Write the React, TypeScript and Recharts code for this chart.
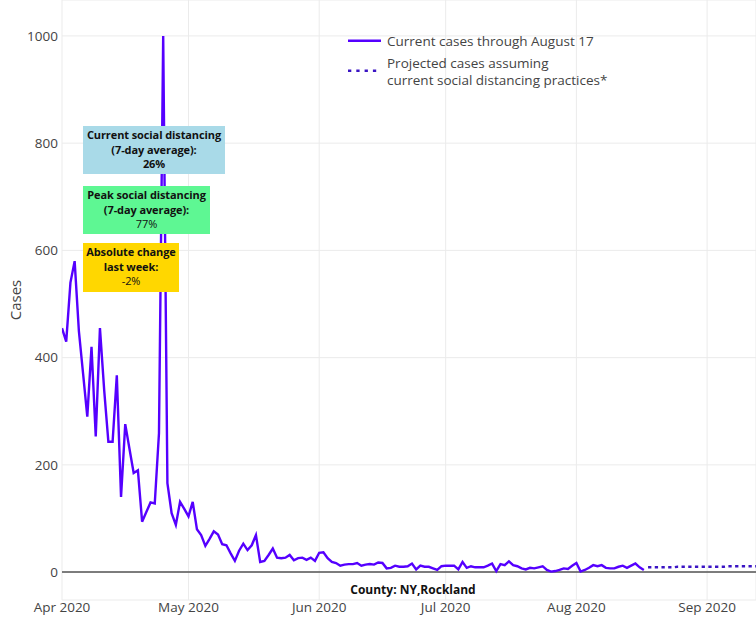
import { LineChart, Line, XAxis, YAxis, CartesianGrid, ReferenceLine, Legend } from 'recharts';

// daily cases from Apr 1 2020 (day 0) to Aug 17 2020 (day 138)
const currentCases = [
  455, 430, 540, 580, 450, 370, 290, 420, 253, 455,
  340, 243, 243, 367, 140, 276, 230, 185, 190, 94,
  112, 130, 128, 259, 1000, 166, 110, 88, 131, 118,
  104, 131, 80, 69, 49, 62, 76, 70, 52, 50,
  35, 21, 40, 53, 41, 50, 69, 19, 21, 32,
  44, 27, 26, 27, 32, 22, 26, 27, 23, 27,
  21, 36, 37, 26, 19, 17, 12, 14, 15, 15,
  17, 12, 14, 15, 14, 18, 17, 7, 8, 12,
  10, 10, 11, 16, 5, 12, 10, 10, 7, 4,
  11, 12, 12, 12, 5, 19, 8, 11, 9, 9,
  9, 12, 16, 2, 15, 13, 20, 13, 11, 7,
  5, 8, 7, 9, 11, 4, 1, 2, 4, 7,
  6, 12, 17, 1, 4, 8, 13, 11, 13, 8,
  7, 7, 10, 12, 8, 12, 16, 9, 4,
];

const projectedStartDay = 139;
const projectedCases = [
  9, 9, 9, 9, 9, 9, 9, 10, 10, 10,
  10, 10, 10, 10, 10, 10, 10, 10, 10, 11,
  11, 11, 11, 11, 11, 11, 11,
];

const monthTickDays = [0, 30, 61, 91, 122, 153];
const monthTickLabels = ['Apr 2020', 'May 2020', 'Jun 2020', 'Jul 2020', 'Aug 2020', 'Sep 2020'];
const caseTicks = [0, 200, 400, 600, 800, 1000];

const legendLabels = [
  ['Current cases through August 17'],
  ['Projected cases assuming', 'current social distancing practices*'],
];

const annotationLines = [
  ['Current social distancing', '(7-day average):', '26%'],
  ['Peak social distancing', '(7-day average):', '77%'],
  ['Absolute change', 'last week:', '-2%'],
];
const annotationBold = [[true, true, true], [true, true, false], [true, true, false]];
const annotationColors = ['#a9dae8', '#5ef793', '#ffd700'];
const annotationBoxes = [
  { left: 83, top: 126, width: 142, height: 48 },
  { left: 83, top: 186, width: 127, height: 48 },
  { left: 83, top: 243, width: 96, height: 49 },
];

const totalDays = projectedStartDay + projectedCases.length;
const chartData = Array.from({ length: totalDays }, (_, day) => ({
  day,
  current: day < currentCases.length ? currentCases[day] : null,
  projected: day >= projectedStartDay ? projectedCases[day - projectedStartDay] : null,
}));

const FONT = '"Open Sans", "Noto Sans", sans-serif';
const LINE_COLOR = '#5500ff';
const PROJ_COLOR = '#3a14c4';

const CustomLegend = () => (
  <svg width={300} height={70} style={{ display: 'block' }}>
    <line x1={8} x2={41} y1={15.7} y2={15.7} stroke={LINE_COLOR} strokeWidth={2.4} />
    <line x1={8} x2={41} y1={45.7} y2={45.7} stroke={PROJ_COLOR} strokeWidth={2.4} strokeDasharray="3.3 5" />
    {legendLabels[0].map((t, i) => (
      <text key={t} x={47} y={15.7 + i * 17.5} dominantBaseline="central" fontSize={13.5} fill="#444" fontFamily={FONT}>{t}</text>
    ))}
    {legendLabels[1].map((t, i) => (
      <text key={t} x={47} y={37.7 + i * 17.5} dominantBaseline="central" fontSize={13.5} fill="#444" fontFamily={FONT}>{t}</text>
    ))}
  </svg>
);

const App = () => {
  return (
    <div style={{ position: 'absolute', left: 0, top: 0, width: 756, height: 620, background: '#fff' }}>
      <LineChart width={756} height={620} data={chartData} margin={{ top: 0, right: 0, left: 0, bottom: 0 }}>
        <CartesianGrid stroke="#ebebeb" strokeWidth={1} />
        <XAxis
          dataKey="day"
          type="number"
          domain={[0, 164.6]}
          allowDataOverflow
          ticks={monthTickDays}
          tickFormatter={(d) => monthTickLabels[monthTickDays.indexOf(d)]}
          axisLine={false}
          tickLine={false}
          tickSize={0}
          tickMargin={2}
          height={20}
          interval={0}
          tick={{ fill: '#444', fontSize: 13.5, fontFamily: FONT }}
          label={{
            content: ({ viewBox }: any) => (
              <text
                x={viewBox.x + 351}
                y={viewBox.y - 6}
                textAnchor="middle"
                fontSize={12}
                fontWeight="bold"
                fill="#111"
                fontFamily={FONT}
              >
                County: NY,Rockland
              </text>
            ),
          }}
        />
        <YAxis
          type="number"
          domain={[-52, 1067]}
          allowDataOverflow
          ticks={caseTicks}
          axisLine={false}
          tickLine={false}
          tickSize={0}
          tickMargin={4}
          width={62}
          interval={0}
          tick={{ fill: '#444', fontSize: 13.5, fontFamily: FONT }}
          label={{
            content: ({ viewBox }: any) => {
              const cx = viewBox.x + 15;
              const cy = viewBox.y + viewBox.height / 2;
              return (
                <text
                  x={cx}
                  y={cy}
                  transform={`rotate(-90 ${cx} ${cy})`}
                  textAnchor="middle"
                  dominantBaseline="central"
                  fontSize={15}
                  fill="#444"
                  fontFamily={FONT}
                >
                  Cases
                </text>
              );
            },
          }}
        />
        <ReferenceLine y={0} stroke="#555" strokeWidth={1.5} />
        <Legend
          layout="vertical"
          align="center"
          verticalAlign="middle"
          content={() => <CustomLegend />}
          wrapperStyle={{ top: 25, left: 340, width: 300, height: 70 }}
        />
        <Line
          type="linear"
          dataKey="current"
          name="Current cases through August 17"
          stroke={LINE_COLOR}
          strokeWidth={2.4}
          dot={false}
          activeDot={false}
          connectNulls={false}
          isAnimationActive={false}
        />
        <Line
          type="linear"
          dataKey="projected"
          name="Projected cases assuming current social distancing practices*"
          stroke={PROJ_COLOR}
          strokeWidth={2.4}
          strokeDasharray="3.3 3.4"
          dot={false}
          activeDot={false}
          connectNulls={false}
          isAnimationActive={false}
        />
      </LineChart>
      {annotationLines.map((lines, i) => (
        <div
          key={i}
          style={{
            position: 'absolute',
            ...annotationBoxes[i],
            boxSizing: 'border-box',
            background: annotationColors[i],
            paddingTop: 2,
            textAlign: 'center',
            fontFamily: FONT,
            fontSize: 11,
            lineHeight: '14.5px',
            whiteSpace: 'nowrap',
            letterSpacing: '-0.1px',
            color: '#111',
          }}
        >
          {lines.map((t, j) => (
            <div key={j} style={{ fontWeight: annotationBold[i][j] ? 700 : 400 }}>{t}</div>
          ))}
        </div>
      ))}
    </div>
  );
};

export default App;
